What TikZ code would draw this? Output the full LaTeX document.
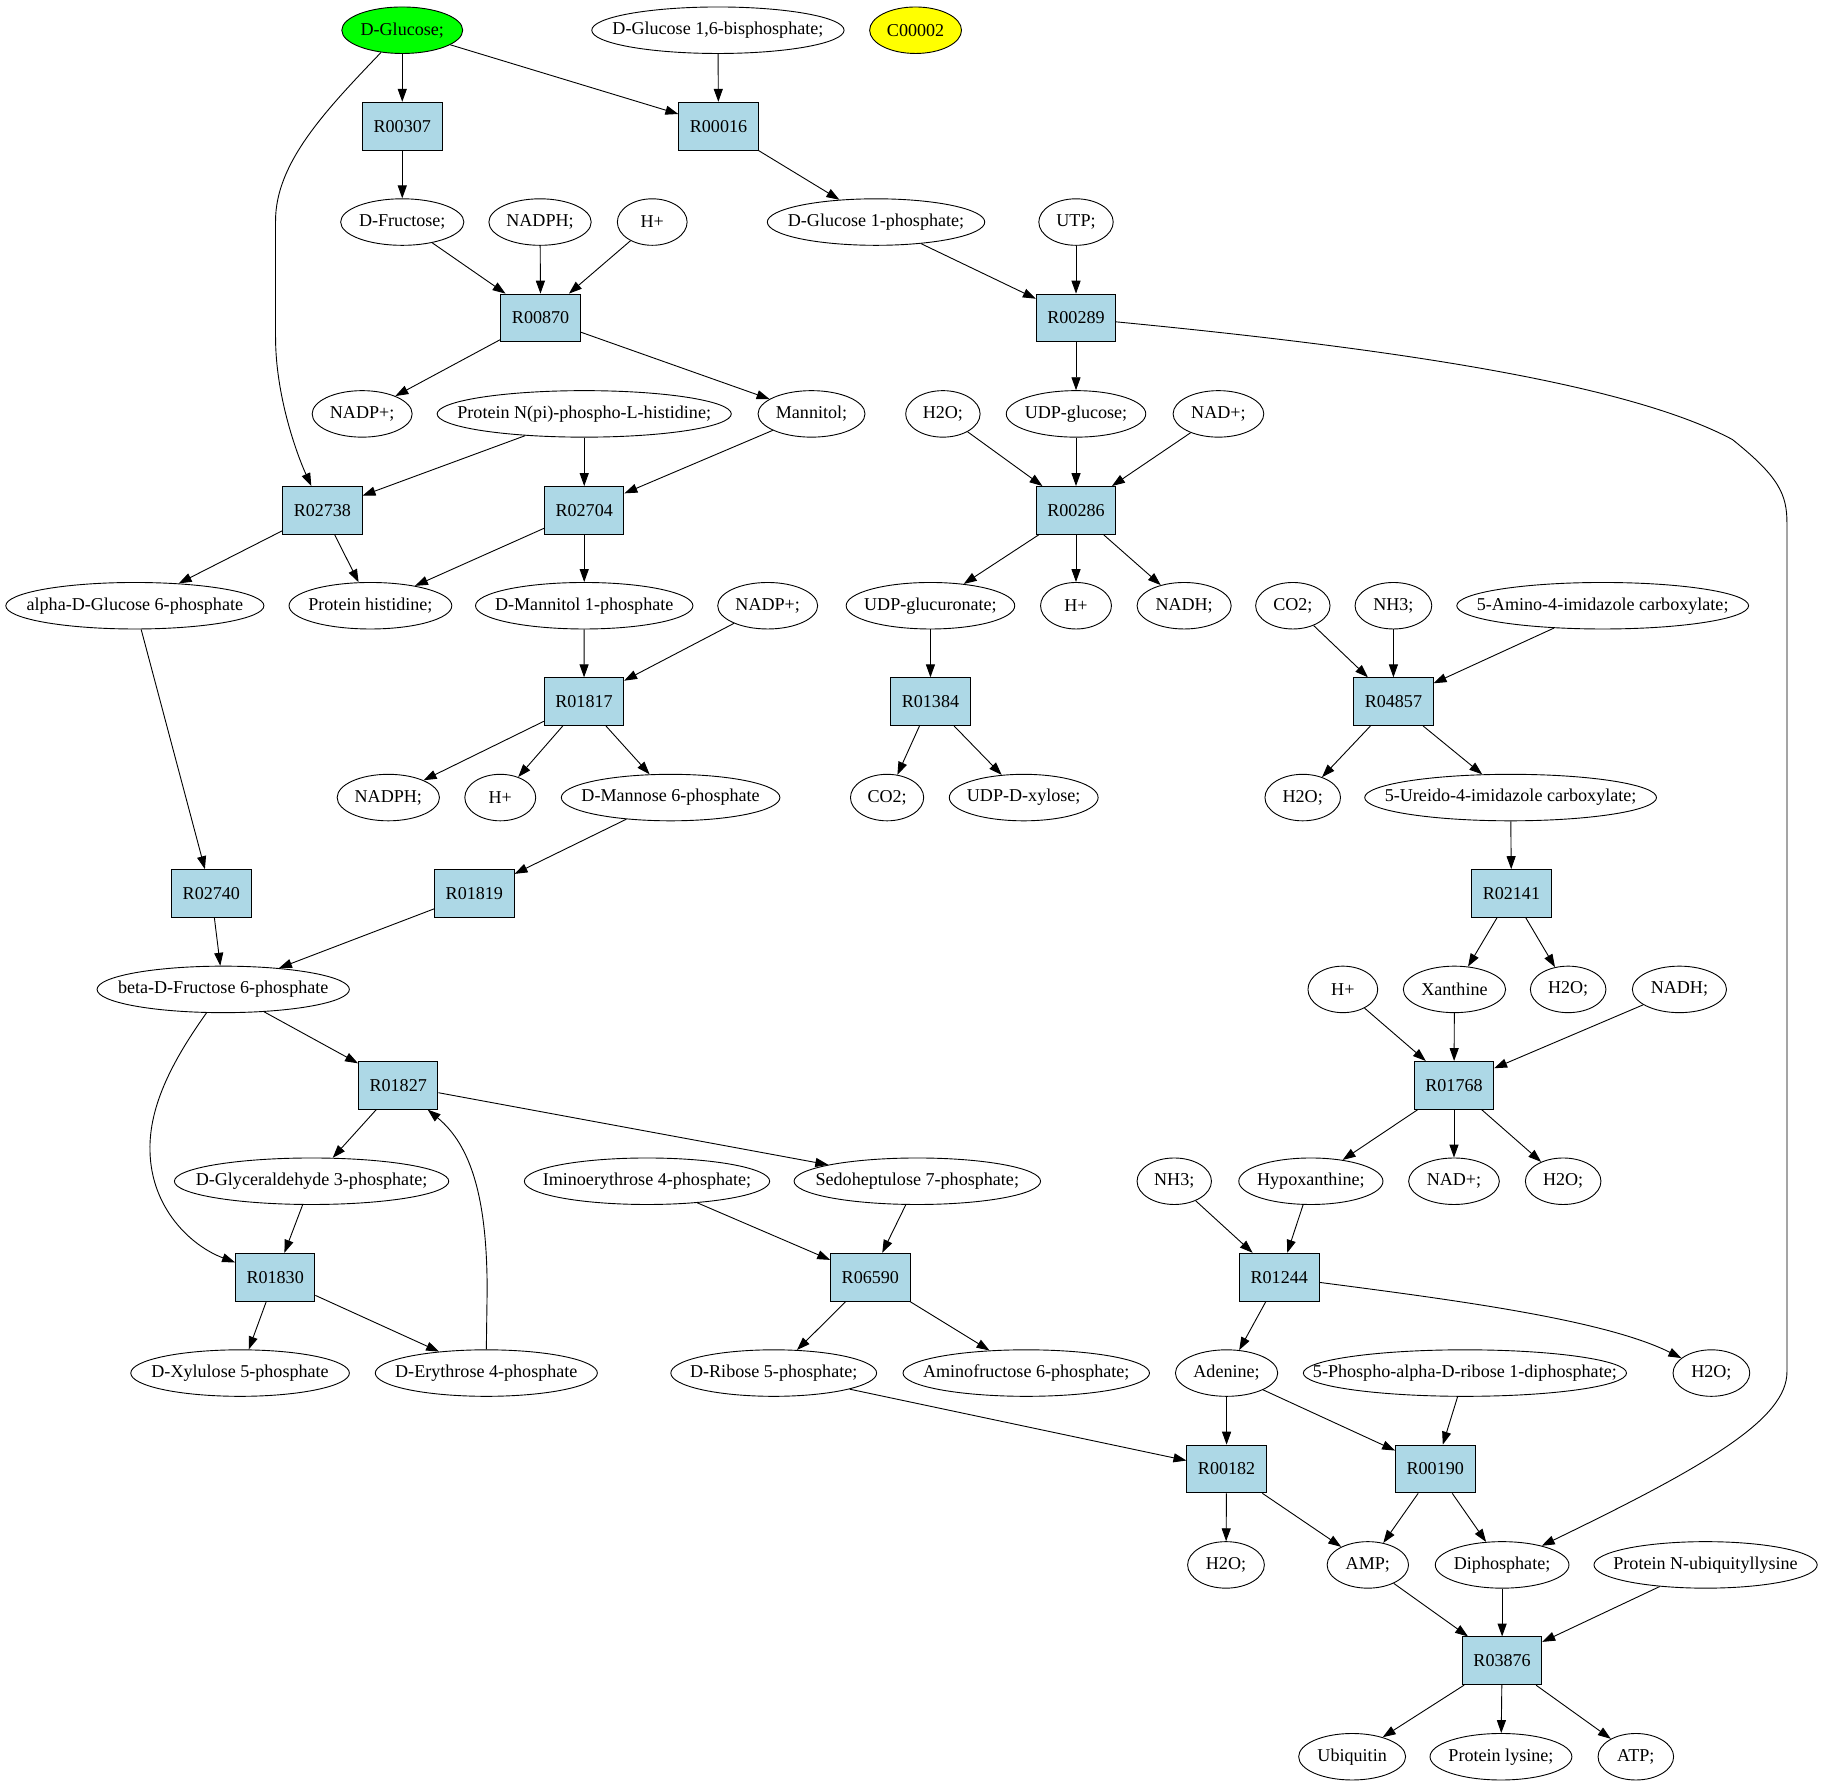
\documentclass[tikz,border=0pt]{standalone}
\usepackage{fontspec}
\setmainfont{Liberation Serif}
\usetikzlibrary{shapes.geometric,arrows.meta}
\definecolor{rxnblue}{RGB}{173,216,230}
\definecolor{glcgreen}{RGB}{0,255,0}
\definecolor{cyellow}{RGB}{255,255,0}
\newcommand\tx[1]{\makebox[0pt]{#1}}
\begin{document}
\begin{tikzpicture}[x=0.9pt,y=-0.9pt,
 met/.style={ellipse,draw,line width=0.7pt,minimum height=36pt,minimum width=#1*0.9pt,inner sep=0pt,font=\fontsize{14pt}{16pt}\selectfont},
 rxn/.style={rectangle,draw,line width=0.7pt,fill=rxnblue,minimum width=61.5pt,minimum height=37pt,inner sep=0pt,font=\fontsize{14pt}{16pt}\selectfont},
 arr/.style={line width=0.7pt,-{Triangle[length=10pt,width=7pt]}}]
\fill[white] (0,0) rectangle (1568,1537);
\useasboundingbox (0,0) rectangle (1568,1537);
% row 0
\node[met=104,fill=glcgreen] (glc) at (346,26) {\tx{D-Glucose;}};
\node[met=217] (g16bp) at (617.5,26) {\tx{D-Glucose 1,6-bisphosphate;}};
\node[met=79,fill=cyellow] (c2) at (787.5,26) {\tx{C00002}};
% row 1
\node[rxn] (R00307) at (346,108.5) {R00307};
\node[rxn] (R00016) at (618,108.5) {R00016};
% row 2
\node[met=106] (fru) at (346,191) {\tx{D-Fructose;}};
\node[met=88] (nadpha) at (464.5,191) {\tx{NADPH;}};
\node[met=60] (ha) at (561,191) {\tx{H+}};
\node[met=187] (g1p) at (753.5,191) {\tx{D-Glucose 1-phosphate;}};
\node[met=64] (utp) at (925.5,191) {\tx{UTP;}};
% row 3
\node[rxn] (R00870) at (465,273.5) {R00870};
\node[rxn] (R00289) at (925.5,273.5) {R00289};
% row 4
\node[met=86] (nadpa) at (311.5,356) {\tx{NADP+;}};
\node[met=253] (pnphis) at (502.5,356) {\tx{Protein N(pi)-phospho-L-histidine;}};
\node[met=92] (mtl) at (698,356) {\tx{Mannitol;}};
\node[met=64] (h2oa) at (811,356) {\tx{H2O;}};
\node[met=120] (udpglc) at (925.5,356) {\tx{UDP-glucose;}};
\node[met=78] (nada) at (1048,356) {\tx{NAD+;}};
% row 5
\node[rxn] (R02738) at (277.3,439) {R02738};
\node[rxn] (R02704) at (502.5,439) {R02704};
\node[rxn] (R00286) at (925.5,439) {R00286};
% row 6
\node[met=222] (ag6p) at (116,521) {\tx{alpha-D-Glucose 6-phosphate}};
\node[met=140] (phis) at (318.6,521) {\tx{Protein histidine;}};
\node[met=187] (dm1p) at (502.5,521) {\tx{D-Mannitol 1-phosphate}};
\node[met=86] (nadpb) at (660.3,521) {\tx{NADP+;}};
\node[met=145] (udpgca) at (800.3,521) {\tx{UDP-glucuronate;}};
\node[met=61] (hb) at (925.5,521) {\tx{H+}};
\node[met=81] (nadha) at (1018.5,521) {\tx{NADH;}};
\node[met=64] (co2a) at (1112,521) {\tx{CO2;}};
\node[met=66] (nh3a) at (1198.5,521) {\tx{NH3;}};
\node[met=251] (aic) at (1378.5,521) {\tx{5-Amino-4-imidazole carboxylate;}};
% row 7
\node[rxn] (R01817) at (502.3,603.5) {R01817};
\node[rxn] (R01384) at (800.3,603.5) {R01384};
\node[rxn] (R04857) at (1198.5,603.5) {R04857};
% row 8
\node[met=88] (nadphb) at (334,686) {\tx{NADPH;}};
\node[met=61] (hc) at (430.3,686) {\tx{H+}};
\node[met=188] (m6p) at (576.8,686) {\tx{D-Mannose 6-phosphate}};
\node[met=63] (co2b) at (763,686) {\tx{CO2;}};
\node[met=128] (udpxyl) at (880.5,686) {\tx{UDP-D-xylose;}};
\node[met=65] (h2ob) at (1120.5,686) {\tx{H2O;}};
\node[met=251] (uic) at (1299.3,686) {\tx{5-Ureido-4-imidazole carboxylate;}};
% row 9
\node[rxn] (R02740) at (181.8,768.5) {R02740};
\node[rxn] (R01819) at (408,768.5) {R01819};
\node[rxn] (R02141) at (1300,768.5) {R02141};
% row 10
\node[met=217] (bf6p) at (192,851) {\tx{beta-D-Fructose 6-phosphate}};
\node[met=60] (hd) at (1155,851) {\tx{H+}};
\node[met=88] (xan) at (1251,851) {\tx{Xanthine}};
\node[met=65] (h2oc) at (1348.8,851) {\tx{H2O;}};
\node[met=81] (nadhb) at (1444.5,851) {\tx{NADH;}};
% row 11
\node[rxn] (R01827) at (342.5,933.5) {R01827};
\node[rxn] (R01768) at (1250.6,933.5) {R01768};
% row 12
\node[met=236] (gap) at (268,1016) {\tx{D-Glyceraldehyde 3-phosphate;}};
\node[met=211] (imino) at (556.5,1016) {\tx{Iminoerythrose 4-phosphate;}};
\node[met=212] (sedo) at (789,1016) {\tx{Sedoheptulose 7-phosphate;}};
\node[met=64] (nh3b) at (1010,1016) {\tx{NH3;}};
\node[met=124] (hypo) at (1127.5,1016) {\tx{Hypoxanthine;}};
\node[met=78] (nadb) at (1250.6,1016) {\tx{NAD+;}};
\node[met=65] (h2od) at (1344.5,1016) {\tx{H2O;}};
% row 13
\node[rxn] (R01830) at (236.7,1098.5) {R01830};
\node[rxn] (R06590) at (748.6,1098.5) {R06590};
\node[rxn] (R01244) at (1100.3,1098.5) {R01244};
% row 14
\node[met=188] (xyl) at (206.5,1181) {\tx{D-Xylulose 5-phosphate}};
\node[met=191] (ery) at (418.3,1181) {\tx{D-Erythrose 4-phosphate}};
\node[met=177] (rib) at (665.5,1181) {\tx{D-Ribose 5-phosphate;}};
\node[met=212] (amf) at (882.7,1181) {\tx{Aminofructose 6-phosphate;}};
\node[met=88] (ade) at (1055,1181) {\tx{Adenine;}};
\node[met=278] (prpp) at (1260,1181) {\tx{5-Phospho-alpha-D-ribose 1-diphosphate;}};
\node[met=66] (h2oe) at (1472,1181) {\tx{H2O;}};
% row 15
\node[rxn] (R00182) at (1055,1263.5) {R00182};
\node[rxn] (R00190) at (1234.5,1263.5) {R00190};
% row 16
\node[met=66] (h2of) at (1054.5,1346) {\tx{H2O;}};
\node[met=70] (amp) at (1176.5,1346) {\tx{AMP;}};
\node[met=115] (diph) at (1292,1346) {\tx{Diphosphate;}};
\node[met=192] (pnub) at (1467,1346) {\tx{Protein N-ubiquityllysine}};
% row 17
\node[rxn] (R03876) at (1292,1428.5) {R03876};
% row 18
\node[met=92] (ubi) at (1163,1511) {\tx{Ubiquitin}};
\node[met=122] (plys) at (1291,1511) {\tx{Protein lysine;}};
\node[met=65] (atp) at (1407,1511) {\tx{ATP;}};
% straight connectors
\foreach \a/\b in {glc/R00307, glc/R00016, g16bp/R00016, R00307/fru, R00016/g1p,
  fru/R00870, nadpha/R00870, ha/R00870, g1p/R00289, utp/R00289,
  R00870/nadpa, R00870/mtl, R00289/udpglc,
  pnphis/R02738, pnphis/R02704, mtl/R02704, h2oa/R00286, udpglc/R00286, nada/R00286,
  R02738/ag6p, R02738/phis, R02704/phis, R02704/dm1p,
  R00286/udpgca, R00286/hb, R00286/nadha,
  dm1p/R01817, nadpb/R01817, udpgca/R01384, co2a/R04857, nh3a/R04857, aic/R04857,
  R01817/nadphb, R01817/hc, R01817/m6p, R01384/co2b, R01384/udpxyl, R04857/h2ob, R04857/uic,
  ag6p/R02740, m6p/R01819, uic/R02141, R02740/bf6p, R01819/bf6p, R02141/xan, R02141/h2oc,
  bf6p/R01827, hd/R01768, xan/R01768, nadhb/R01768,
  R01827/gap, R01827/sedo, R01768/hypo, R01768/nadb, R01768/h2od,
  gap/R01830, imino/R06590, sedo/R06590, nh3b/R01244, hypo/R01244,
  R01830/xyl, R01830/ery, R06590/rib, R06590/amf, R01244/ade,
  rib/R00182, ade/R00182, ade/R00190, prpp/R00190,
  R00182/h2of, R00182/amp, R00190/amp, R00190/diph,
  amp/R03876, diph/R03876, pnub/R03876,
  R03876/ubi, R03876/plys, R03876/atp}
  \draw[arr] (\a) -- (\b);
% curved connectors
\draw[arr] (glc) .. controls (280,95) and (237,140) .. (237,190) -- (237,290)
  .. controls (237,340) and (255,390) .. (R02738);
\draw[arr] (bf6p) .. controls (150,910) and (128,950) .. (129,990)
  .. controls (130,1040) and (165,1072) .. (R01830);
\draw[arr] (ery.north) -- (419,1110) .. controls (419,1030) and (405,985) .. (R01827);
\draw[arr] (R00289) .. controls (1200,300) and (1400,330) .. (1490,378)
  .. controls (1530,410) and (1537,425) .. (1537,450) -- (1537,1180)
  .. controls (1537,1220) and (1470,1260) .. (diph);
\draw[arr] (R01244) .. controls (1250,1118) and (1380,1135) .. (h2oe);
\end{tikzpicture}
\end{document}
